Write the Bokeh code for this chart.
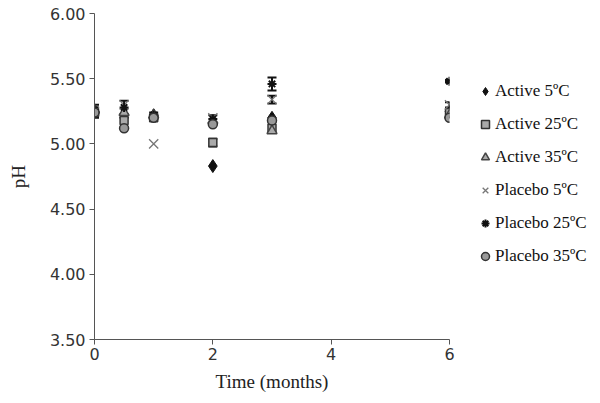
from bokeh.plotting import figure
from bokeh.models import ColumnDataSource, Whisker, TeeHead, Legend, LegendItem, FixedTicker
from bokeh.embed import file_html
from bokeh.resources import INLINE

months = [0, 0.5, 1, 2, 3, 6]
active_5 = [5.25, 5.20, 5.22, 4.83, 5.20, 5.25]
active_25 = [5.24, 5.18, 5.20, 5.01, 5.12, 5.24]
active_35 = [5.26, 5.24, 5.22, 5.18, 5.10, 5.22]
placebo_5 = [5.25, 5.30, 5.00, 5.20, 5.34, 5.30]
placebo_25 = [5.26, 5.28, 5.22, 5.19, 5.46, 5.48]
placebo_35 = [5.24, 5.12, 5.20, 5.15, 5.18, 5.20]

active_25_err = [0.04, 0.0, 0.0, 0.03, 0.0, 0.0]
placebo_5_err = [0.0, 0.0, 0.0, 0.0, 0.03, 0.02]
placebo_25_err = [0.04, 0.05, 0.02, 0.03, 0.05, 0.01]

labels = ["Active 5\u00baC", "Active 25\u00baC", "Active 35\u00baC",
          "Placebo 5\u00baC", "Placebo 25\u00baC", "Placebo 35\u00baC"]

p = figure(frame_width=355, frame_height=326, output_backend="svg", toolbar_location=None,
           x_range=(0, 6), y_range=(3.5, 6.0),
           min_border_left=94, min_border_right=135, min_border_top=13, min_border_bottom=48)
p.outline_line_color = None
p.grid.grid_line_color = None
p.background_fill_color = "white"

for ax in (p.xaxis[0], p.yaxis[0]):
    ax.axis_line_color = "#555555"
    ax.major_tick_line_color = "#555555"
    ax.major_tick_in = 0
    ax.major_tick_out = 5
    ax.minor_tick_line_color = None
    ax.major_label_text_font = "DejaVu Sans"
    ax.major_label_text_font_size = "16px"
    ax.major_label_text_color = "#333333"
    ax.axis_label_text_font = "Liberation Serif"
    ax.axis_label_text_font_size = "19px"
    ax.axis_label_text_font_style = "normal"
    ax.axis_label_text_color = "#222222"

p.xaxis.ticker = FixedTicker(ticks=[0, 2, 4, 6])
p.yaxis.ticker = FixedTicker(ticks=[3.5, 4.0, 4.5, 5.0, 5.5, 6.0])
p.yaxis.major_label_overrides = {3.5: "3.50", 4.0: "4.00", 4.5: "4.50", 5.0: "5.00", 5.5: "5.50", 6.0: "6.00"}
p.xaxis.axis_label = "Time (months)"
p.yaxis.axis_label = "pH"
p.xaxis.major_label_standoff = 3
p.yaxis.major_label_standoff = 4
p.xaxis.axis_label_standoff = 8
p.yaxis.axis_label_standoff = 18

def whisk(y, err):
    xs = [m for m, e in zip(months, err) if e > 0]
    ys = [v for v, e in zip(y, err) if e > 0]
    es = [e for e in err if e > 0]
    src = ColumnDataSource(dict(x=xs, up=[a + b for a, b in zip(ys, es)], lo=[a - b for a, b in zip(ys, es)]))
    w = Whisker(source=src, base="x", upper="up", lower="lo", line_color="#111111", line_width=2,
                upper_head=TeeHead(size=9, line_color="#111111", line_width=2),
                lower_head=TeeHead(size=9, line_color="#111111", line_width=2))
    p.add_layout(w)

r1 = p.scatter(months, active_5, marker="diamond", size=13, fill_color="#111111", line_color="#111111")
r2 = p.scatter(months, active_25, marker="square", size=8, fill_color="#aaaaaa", line_color="#333333", line_width=1.5)
r3 = p.scatter(months, active_35, marker="triangle", size=10, fill_color="#aaaaaa", line_color="#444444", line_width=1.5)
r4 = p.scatter(months, placebo_5, marker="x", size=13, line_color="#777777", line_width=1.3)
r5 = p.scatter(months, placebo_25, marker="asterisk", size=9, line_color="#111111", line_width=2)
r6 = p.scatter(months, placebo_35, marker="circle", size=9, fill_color="#999999", line_color="#333333", line_width=1.5)

whisk(active_25, active_25_err)
whisk(placebo_5, placebo_5_err)
whisk(placebo_25, placebo_25_err)

items = [LegendItem(label=l, renderers=[r]) for l, r in zip(labels, [r1, r2, r3, r4, r5, r6])]
legend = Legend(items=items, location=(26, 73), background_fill_alpha=0, border_line_color=None,
                label_text_font="Liberation Serif", label_text_font_size="17px", label_text_color="#111111",
                glyph_width=20, glyph_height=20, label_standoff=0, spacing=13, label_height=20,
                padding=0, margin=0)
p.add_layout(legend, "right")

open("out.html", "w").write(file_html(p, INLINE))
